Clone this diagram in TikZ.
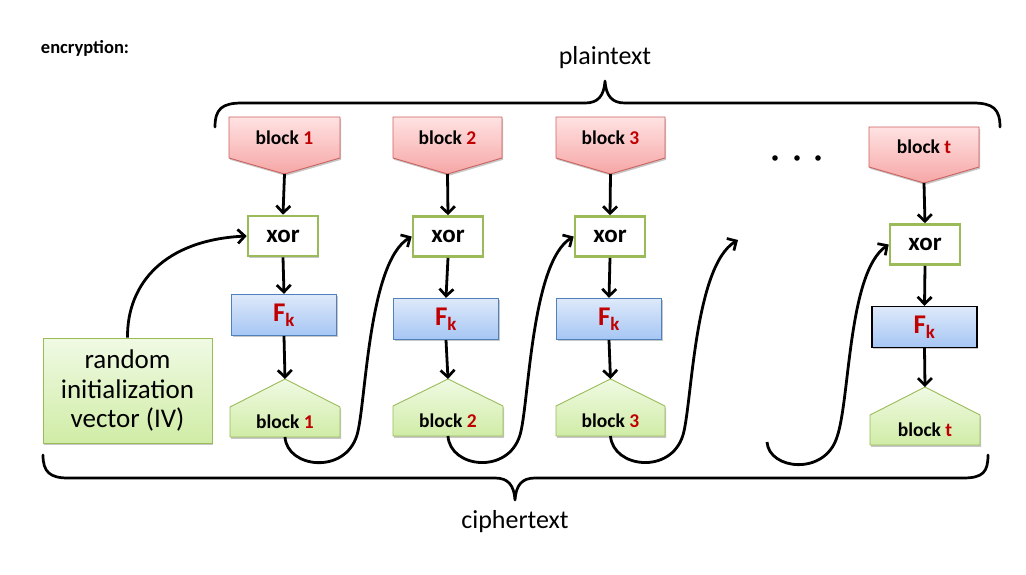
\documentclass[tikz,border=0pt]{standalone}
\usepackage{fontspec}
\setmainfont{Carlito}
\usetikzlibrary{arrows.meta,shadows}
\definecolor{numred}{RGB}{192,0,0}
\definecolor{redtop}{RGB}{255,226,226}
\definecolor{redbot}{RGB}{246,166,166}
\definecolor{redline}{RGB}{204,98,95}
\definecolor{grtop}{RGB}{240,250,228}
\definecolor{grbot}{RGB}{208,236,166}
\definecolor{grline}{RGB}{155,187,89}
\definecolor{bltop}{RGB}{222,233,250}
\definecolor{blbot}{RGB}{166,198,244}
\definecolor{blline}{RGB}{79,129,189}
\tikzset{
  shad/.style={drop shadow={shadow xshift=1.2pt,shadow yshift=-1.8pt,opacity=0.22,fill=black}},
  redshape/.style={shad,draw=redline,line width=0.9pt,top color=redtop,bottom color=redbot},
  grshape/.style={shad,draw=grline,line width=0.9pt,top color=grtop,bottom color=grbot},
  blocktext/.style={font=\bfseries\fontsize{19.5}{23}\selectfont,inner sep=0pt},
  xorbox/.style={draw=grline,line width=2.6pt,fill=white,minimum width=70pt,minimum height=40pt,inner sep=0pt,font=\bfseries\fontsize{25}{30}\selectfont,shad},
  fkbox/.style={shad,draw=blline,line width=1.3pt,top color=bltop,bottom color=blbot,minimum width=105pt,minimum height=41pt,inner sep=0pt,text=numred,font=\bfseries\fontsize{27}{30}\selectfont},
  arr/.style={line width=2.8pt,-{Straight Barb[length=7pt,width=14pt,line width=2.7pt]}},
  brace/.style={line width=2.7pt,line cap=round,line join=round},
  lbl/.style={font=\fontsize{26}{30}\selectfont,inner sep=0pt}
}
\newcommand{\ptblk}[7]{%
  \path[redshape] (#2,#4) -- (#3,#4) -- (#3,#5) -- ({(#2+#3)/2},#6) -- (#2,#5) -- cycle;
  \coordinate (#1tip) at ({(#2+#3)/2},#6);
  \node[blocktext] (#1) at ({(#2+#3)/2},{(#4+#5)/2}) {block \textcolor{numred}{#7}};}
\newcommand{\ctblk}[7]{%
  \path[grshape] ({(#2+#3)/2},#4) -- (#3,#5) -- (#3,#6) -- (#2,#6) -- (#2,#5) -- cycle;
  \coordinate (#1tip) at ({(#2+#3)/2},#4);
  \coordinate (#1bot) at ({(#2+#3)/2},#6);
  \node[blocktext] (#1) at ({(#2+#3)/2},{(#5+#6)/2}) {block \textcolor{numred}{#7}};}
\begin{document}
\begin{tikzpicture}[x=1pt,y=-1pt]
\useasboundingbox[fill=white] (0,0) rectangle (1026,574);

\node[font=\bfseries\fontsize{18.5}{22}\selectfont,inner sep=0pt] (enc) at (85,48) {encryption:};
\node[lbl] (pt) at (605,58) {plaintext};
\node[lbl] (ct) at (515,522) {ciphertext};

% braces
\draw[brace] (215,127) .. controls (215,109) and (222,103) .. (242,103) -- (585,103)
  .. controls (598,103) and (604,96) .. (605,81) .. controls (606,96) and (612,103) .. (625,103)
  -- (973,103) .. controls (993,103) and (1000,109) .. (1000,127);
\draw[brace] (43,455) .. controls (43,472) and (50,478) .. (68,478) -- (495,478)
  .. controls (508,478) and (514,485) .. (515,500) .. controls (516,485) and (522,478) .. (535,478)
  -- (963,478) .. controls (983,478) and (988,472) .. (988,455);

% plaintext blocks
\ptblk{p1}{229}{340}{117}{158}{174}{1}
\ptblk{p2}{393}{502}{117}{158}{174}{2}
\ptblk{p3}{556}{665}{117}{158}{174}{3}
\ptblk{pt4}{869}{979}{127}{167}{183}{t}

% dots
\foreach \xx [count=\i] in {775,797,818} \fill (\xx,158) circle (2.8pt);

% xor boxes
\node[xorbox] (x1) at (283,236) {xor};
\node[xorbox] (x2) at (448,236.5) {xor};
\node[xorbox] (x3) at (610,236.5) {xor};
\node[xorbox] (x4) at (925,244.5) {xor};

% F_k boxes
\node[fkbox] (f1) at (284,315) {F\textsubscript{k}};
\node[fkbox] (f2) at (446,319) {F\textsubscript{k}};
\node[fkbox] (f3) at (609,319) {F\textsubscript{k}};
\node[fkbox,draw=black] (f4) at (924.5,327) {F\textsubscript{k}};

% ciphertext blocks
\ctblk{c1}{230}{340}{379}{407}{437}{1}
\ctblk{c2}{393}{503}{379}{406}{436}{2}
\ctblk{c3}{556}{665}{379}{406}{436}{3}
\ctblk{c4}{870}{980}{387}{415}{445}{t}

% IV
\node[shad,draw=grline,line width=0.9pt,top color=grtop,bottom color=grbot,minimum width=169pt,minimum height=105pt,inner sep=0pt,align=center,font=\fontsize{27}{29.5}\selectfont] (iv) at (127.5,390.5) {random\\initialization\\vector (IV)};

% vertical arrows
\foreach \i in {1,2,3} {
  \draw[arr] (p\i tip) -- (x\i.north);
  \draw[arr] (x\i.south) -- (f\i.north);
  \draw[arr] (f\i.south) -- (c\i tip);
}
\draw[arr] (pt4tip) -- (x4.north);
\draw[arr] (x4.south) -- (f4.north);
\draw[arr] (f4.south) -- (c4tip);

% chaining curves
\draw[arr] (iv.north) .. controls (127,283) and (165,240) .. (x1.west);
\draw[arr] (c1bot) .. controls (287,468) and (345,475) .. (357,435)
  .. controls (366,405) and (368,262) .. (x2.west);
\draw[arr] (c2bot) .. controls (450,468) and (508,475) .. (520,435)
  .. controls (529,405) and (531,262) .. (x3.west);
\coordinate (dangle) at (738,240);
\draw[arr] (c3bot) .. controls (613,468) and (671,475) .. (683,435)
  .. controls (692,405) and (694,266) .. (dangle);
\coordinate (dotsout) at (767,442);
\draw[arr] (dotsout) .. controls (769,470) and (825,476) .. (837,437)
  .. controls (850,400) and (848,272) .. (x4.west);
\end{tikzpicture}
\end{document}
